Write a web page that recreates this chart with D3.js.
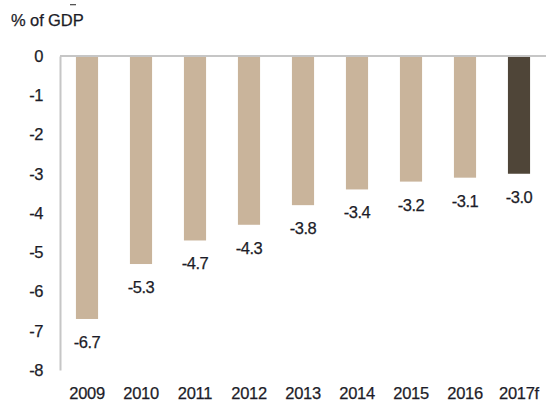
<!DOCTYPE html>
<html>
<head>
<meta charset="utf-8">
<script src="https://cdn.jsdelivr.net/npm/d3@7"></script>
<style>
  html, body { margin: 0; padding: 0; background: #fff; }
  svg { display: block; }
  text { font-family: Arial, "Liberation Sans", sans-serif; fill: #1c1c28; stroke: #1c1c28; stroke-width: 0.25px; }
</style>
</head>
<body>
<svg id="chart" width="546" height="407"></svg>
<script>
// Fiscal balance, % of GDP
const years = ["2009", "2010", "2011", "2012", "2013", "2014", "2015", "2016", "2017f"];
const balance = [-6.7, -5.3, -4.7, -4.3, -3.8, -3.4, -3.2, -3.1, -3.0];
const forecast = [false, false, false, false, false, false, false, false, true];
const yTicks = [0, -1, -2, -3, -4, -5, -6, -7, -8];

const svg = d3.select("#chart");
const plotLeft = 60, plotRight = 546, plotTop = 56, plotBottom = 370;
const fontSize = 16.5;
const textCol = "#1c1c28";

const x = d3.scaleBand().domain(years).range([plotLeft, plotRight]).paddingInner(0.59).paddingOuter(0.295);
const y = d3.scaleLinear().domain([0, -8]).range([plotTop, plotBottom]);

const colActual = "#c9b49b";
const colForecast = "#4f4538";
const axisCol = "#c6c6c6";

// plain hyphen for negative numbers
const fmtInt = d => String(d);
const fmtVal = d => d.toFixed(1);

// unit label
svg.append("rect").attr("x", 70).attr("y", 4).attr("width", 6).attr("height", 1.3).attr("fill", "#555");
svg.append("text").attr("x", 11).attr("y", 26).attr("font-size", fontSize).attr("letter-spacing", -0.1).text("% of GDP");

// bars
svg.selectAll("rect.bar").data(years).join("rect")
  .attr("class", "bar")
  .attr("x", d => x(d))
  .attr("width", x.bandwidth())
  .attr("y", y(0))
  .attr("height", (d, i) => y(balance[i]) - y(0))
  .attr("fill", (d, i) => forecast[i] ? colForecast : colActual);

// value labels below each bar
svg.selectAll("text.val").data(years).join("text")
  .attr("class", "val")
  .attr("x", d => x(d) + x.bandwidth() / 2)
  .attr("y", (d, i) => y(balance[i]) + 29)
  .attr("text-anchor", "middle")
  .attr("font-size", fontSize)
  .attr("letter-spacing", -0.5)
  .text((d, i) => fmtVal(balance[i]));

// y axis
const yAxis = d3.axisLeft(y).tickValues(yTicks).tickSize(0).tickPadding(17).tickFormat(fmtInt);
const gy = svg.append("g").attr("transform", `translate(${plotLeft},0)`).call(yAxis);
gy.select(".domain").attr("stroke", axisCol).attr("stroke-width", 2);
gy.selectAll("text").attr("font-size", fontSize).attr("font-family", "Arial, 'Liberation Sans', sans-serif")
  .attr("fill", textCol).attr("letter-spacing", -0.5);

// zero line
svg.append("line").attr("x1", plotLeft).attr("x2", plotRight).attr("y1", y(0)).attr("y2", y(0))
  .attr("stroke", axisCol).attr("stroke-width", 2);

// x axis labels
const xAxis = d3.axisBottom(x).tickSize(0).tickPadding(0);
const gx = svg.append("g").attr("transform", `translate(0,${plotBottom + 17})`).call(xAxis);
gx.select(".domain").remove();
gx.selectAll("text").attr("font-size", fontSize).attr("font-family", "Arial, 'Liberation Sans', sans-serif")
  .attr("fill", textCol).attr("letter-spacing", -0.3);
</script>
</body>
</html>
